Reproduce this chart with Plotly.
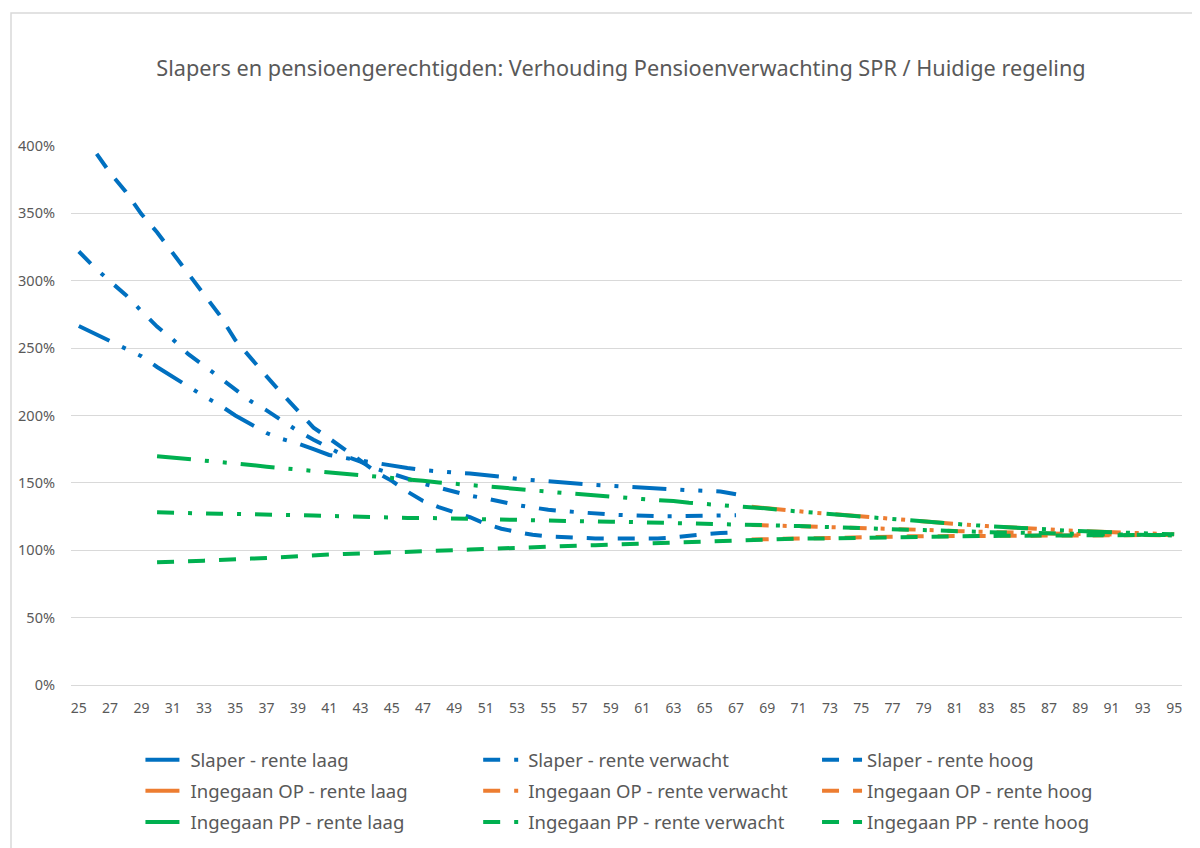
import plotly.graph_objects as go

# Ages on the category axis
slaper_ages = list(range(25, 68))
op_ages = list(range(68, 96))
pp_ages = list(range(30, 96))

# Ratio pension expectation SPR / current scheme (in %)
slaper_laag = [
    266.4, 261.0, 255.3, 250.0, 244.0, 236.0, 228.7, 221.5, 214.3, 207.8,
    200.0, 193.5, 187.0, 182.5, 179.3, 175.0, 170.7, 168.5, 166.5, 164.5,
    162.8, 161.0, 159.5, 158.2, 157.6, 157.0, 156.0, 154.5, 153.0, 152.0,
    151.3, 150.2, 149.2, 148.5, 147.8, 147.0, 146.3, 145.8, 145.2, 144.6,
    144.1, 143.6, 141.5,
]
slaper_verwacht = [
    321.7, 310.0, 299.5, 289.5, 277.5, 266.0, 256.5, 245.5, 237.0, 228.0,
    219.5, 210.5, 203.8, 196.0, 188.5, 182.0, 176.0, 170.0, 165.8, 160.5,
    156.8, 153.0, 149.5, 146.5, 143.3, 140.5, 138.5, 136.0, 133.5, 131.8,
    130.0, 129.0, 128.0, 127.0, 126.5, 126.0, 125.5, 125.3, 125.3, 125.3,
    125.6, 126.0, 126.0,
]
slaper_hoog = [
    413.0, 397.0, 380.0, 366.0, 349.5, 336.0, 320.5, 305.5, 290.0, 274.5,
    256.0, 242.0, 229.0, 216.0, 204.0, 191.0, 183.0, 175.0, 166.5, 158.0,
    151.5, 143.5, 136.5, 132.0, 128.0, 124.5, 119.5, 116.0, 113.5, 111.5,
    110.3, 109.6, 109.2, 108.8, 108.7, 108.7, 108.7, 108.8, 109.5, 111.0,
    112.0, 112.8, 113.3,
]

op_laag = [
    132.3, 131.0, 129.7, 128.6, 127.8, 127.0, 126.0, 125.0, 124.0, 123.0,
    122.3, 121.2, 120.2, 119.3, 118.7, 118.0, 117.5, 116.7, 116.0, 115.4,
    114.7, 114.3, 113.8, 113.2, 112.6, 112.4, 112.0, 111.8,
]
op_verwacht = [
    118.8, 118.5, 118.3, 118.0, 117.5, 117.3, 117.0, 116.4, 116.0, 115.6,
    115.2, 115.0, 114.8, 114.2, 113.8, 113.5, 113.2, 113.0, 112.7, 112.5,
    112.2, 112.0, 111.8, 111.6, 111.4, 111.3, 111.2, 111.0,
]
op_hoog = [
    108.0, 108.3, 108.6, 108.7, 108.7, 108.9, 109.2, 109.4, 109.7, 110.0,
    110.3, 110.4, 110.4, 110.5, 110.5, 110.6, 110.7, 110.8, 110.9, 111.0,
    111.0, 111.0, 111.1, 111.1, 111.2, 111.2, 111.3, 111.4,
]

pp_laag = [
    169.8, 168.8, 167.5, 166.6, 165.6, 164.7, 163.3, 162.0, 161.0, 159.8,
    158.8, 158.0, 156.8, 155.5, 154.3, 153.4, 152.6, 151.5, 150.3, 149.5,
    148.4, 147.5, 146.5, 145.5, 144.8, 143.5, 142.5, 141.8, 140.8, 139.8,
    139.0, 138.0, 137.5, 136.5, 135.2, 134.5, 133.6, 133.0, 132.3, 131.0,
    129.7, 128.6, 127.8, 127.0, 126.0, 125.0, 124.0, 123.0, 122.3, 121.2,
    120.2, 119.3, 118.7, 118.0, 117.5, 116.7, 116.0, 115.4, 114.7, 114.3,
    113.8, 113.2, 112.6, 112.4, 112.0, 111.8,
]
pp_verwacht = [
    128.2, 127.8, 127.4, 127.3, 127.0, 127.0, 126.6, 126.3, 126.0, 126.0,
    125.8, 125.4, 125.0, 124.7, 124.3, 124.1, 124.0, 124.0, 123.7, 123.5,
    123.4, 123.2, 122.8, 122.7, 122.3, 122.0, 121.9, 121.6, 121.4, 121.1,
    121.0, 120.8, 120.5, 120.4, 120.2, 119.8, 119.4, 119.1, 118.8, 118.5,
    118.3, 118.0, 117.5, 117.3, 117.0, 116.4, 116.0, 115.6, 115.2, 115.0,
    114.8, 114.2, 113.8, 113.5, 113.2, 113.0, 112.7, 112.5, 112.2, 112.0,
    111.8, 111.6, 111.4, 111.3, 111.2, 111.0,
]
pp_hoog = [
    91.1, 91.8, 91.8, 92.3, 93.0, 93.7, 93.8, 94.3, 95.1, 95.8,
    96.2, 96.8, 97.3, 97.6, 98.2, 98.6, 98.6, 99.0, 99.6, 100.0,
    100.5, 101.0, 101.6, 102.0, 102.3, 102.7, 103.1, 103.5, 103.8, 104.2,
    104.8, 105.3, 105.8, 106.2, 106.5, 106.9, 107.3, 107.6, 108.0, 108.3,
    108.6, 108.7, 108.7, 108.9, 109.2, 109.4, 109.7, 110.0, 110.3, 110.4,
    110.4, 110.5, 110.5, 110.6, 110.7, 110.8, 110.9, 111.0, 111.0, 111.0,
    111.1, 111.1, 111.2, 111.2, 111.3, 111.4,
]

x_ticks = list(range(25, 96, 2))
y_ticks = [0, 50, 100, 150, 200, 250, 300, 350, 400]
y_tick_labels = ["0%", "50%", "100%", "150%", "200%", "250%", "300%", "350%", "400%"]

BLUE = "#0070C0"
ORANGE = "#ED7D31"
GREEN = "#00B050"
GREY_TEXT = "#595959"
GRID = "#D9D9D9"

# Excel-like dash patterns: long dash dot dot / dash dot / dash
DASH_LAAG = "34px,14px,4px,14px,4px,14px"
DASH_VERWACHT = "17px,14px,4px,14px"
DASH_HOOG = "17px,14px"

series = [
    ("Slaper - rente laag", slaper_ages, slaper_laag, BLUE, DASH_LAAG, "legend"),
    ("Slaper - rente verwacht", slaper_ages, slaper_verwacht, BLUE, DASH_VERWACHT, "legend2"),
    ("Slaper - rente hoog", slaper_ages, slaper_hoog, BLUE, DASH_HOOG, "legend3"),
    ("Ingegaan OP - rente laag", op_ages, op_laag, ORANGE, DASH_LAAG, "legend"),
    ("Ingegaan OP - rente verwacht", op_ages, op_verwacht, ORANGE, DASH_VERWACHT, "legend2"),
    ("Ingegaan OP - rente hoog", op_ages, op_hoog, ORANGE, DASH_HOOG, "legend3"),
    ("Ingegaan PP - rente laag", pp_ages, pp_laag, GREEN, DASH_LAAG, "legend"),
    ("Ingegaan PP - rente verwacht", pp_ages, pp_verwacht, GREEN, DASH_VERWACHT, "legend2"),
    ("Ingegaan PP - rente hoog", pp_ages, pp_hoog, GREEN, DASH_HOOG, "legend3"),
]

fig = go.Figure()
for name, xs, ys, color, dash, leg in series:
    fig.add_trace(go.Scatter(
        x=xs, y=ys, name=name, mode="lines",
        line=dict(color=color, width=4, dash=dash),
        legend=leg, legendgroup=name,
    ))

# one legend per column, each trace in its own group so rows get a gap
legend_style = dict(
    orientation="v",
    yanchor="top", y=-0.1044,
    xanchor="left",
    font=dict(family="Noto Sans", size=18.5, color=GREY_TEXT),
    bgcolor="rgba(0,0,0,0)",
    tracegroupgap=4,
    itemwidth=40,
    traceorder="grouped",
)

# the page body has an 8px margin, so the figure is 8px smaller each way
fig.update_layout(
    width=1192, height=840,
    margin=dict(l=63, r=18, t=138, b=163, autoexpand=False),
    paper_bgcolor="white",
    plot_bgcolor="white",
    title=dict(
        text="Slapers en pensioengerechtigden: Verhouding Pensioenverwachting SPR / Huidige regeling",
        x=613 / 1192, xref="container", xanchor="center",
        y=1 - 60 / 840, yref="container", yanchor="middle",
        font=dict(family="Noto Sans", size=21.7, color=GREY_TEXT),
    ),
    legend=dict(legend_style, x=0.0625),
    legend2=dict(legend_style, x=0.3665),
    legend3=dict(legend_style, x=0.6715),
    xaxis=dict(
        range=[24.5, 95.5],
        tickmode="array", tickvals=x_ticks,
        showgrid=False, zeroline=False,
        showline=True, linecolor=GRID, linewidth=1,
        ticks="", ticklabelstandoff=10,
        tickfont=dict(family="Noto Sans", size=14, color=GREY_TEXT),
    ),
    yaxis=dict(
        range=[0, 400],
        tickmode="array", tickvals=y_ticks, ticktext=y_tick_labels,
        showgrid=True, gridcolor=GRID, gridwidth=1,
        zeroline=False, showline=False,
        ticks="", ticklabelstandoff=15,
        tickfont=dict(family="Noto Sans", size=14.5, color=GREY_TEXT),
    ),
    showlegend=True,
)

# light chart border like the spreadsheet frame
fig.add_shape(
    type="rect", xref="paper", yref="paper",
    x0=-0.054, x1=1.2, y0=-0.5, y1=1.2466,
    line=dict(color=GRID, width=1.5),
    fillcolor="rgba(0,0,0,0)", layer="below",
)

fig.write_html("out.html")
